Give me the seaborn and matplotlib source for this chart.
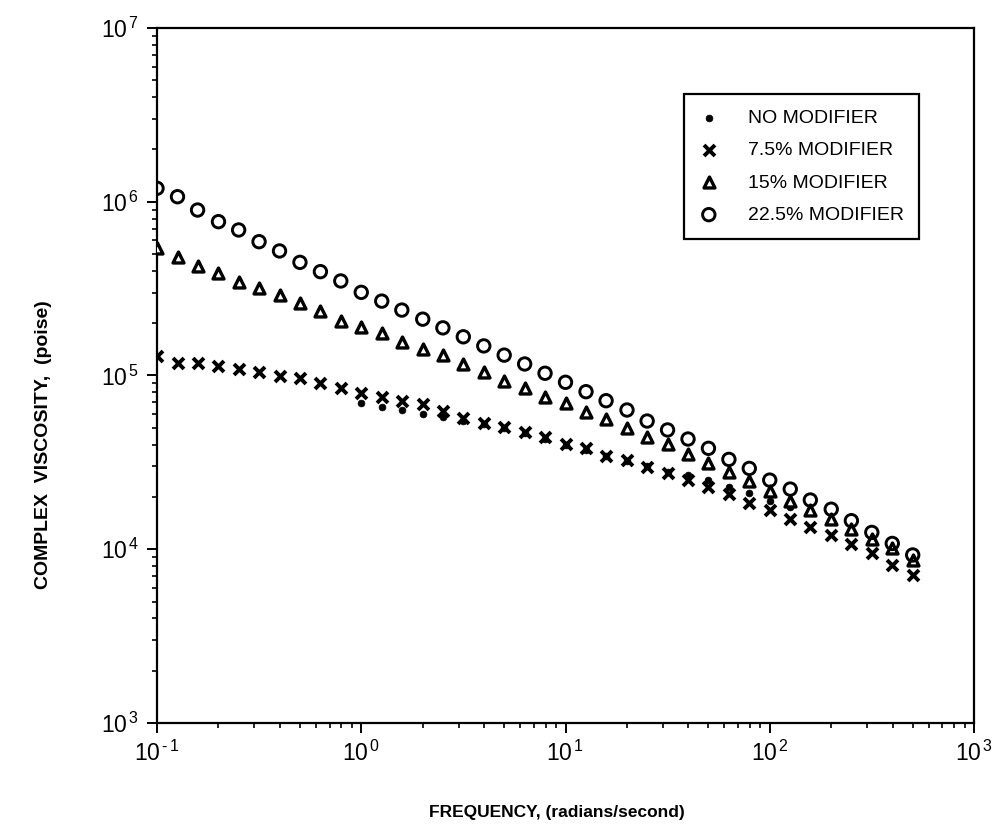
import matplotlib
matplotlib.use("Agg")
import matplotlib.pyplot as plt
import seaborn as sns
import numpy as np
import pandas as pd
from matplotlib.ticker import LogLocator

# ---------------- data ----------------
freq = [0.1, 0.126, 0.158, 0.2, 0.251, 0.316, 0.398, 0.501, 0.631, 0.794,
        1.0, 1.26, 1.58, 2.0, 2.51, 3.16, 3.98, 5.01, 6.31, 7.94,
        10.0, 12.6, 15.8, 20.0, 25.1, 31.6, 39.8, 50.1, 63.1, 79.4,
        100.0, 126.0, 158.0, 200.0, 251.0, 316.0, 398.0, 501.0]

freq_none = [1.0, 1.26, 1.58, 2.0, 2.51, 3.16, 3.98, 5.01, 6.31, 7.94,
             10.0, 12.6, 15.8, 20.0, 25.1, 31.6, 39.8, 50.1, 63.1, 79.4,
             100.0, 126.0, 158.0]

visc_none = [6.92e4, 6.56e4, 6.33e4, 6.00e4, 5.79e4, 5.49e4, 5.26e4, 4.97e4,
             4.65e4, 4.30e4, 4.00e4, 3.75e4, 3.45e4, 3.22e4, 3.00e4, 2.80e4,
             2.66e4, 2.50e4, 2.29e4, 2.10e4, 1.90e4, 1.76e4, 1.65e4]

visc_75 = [1.295e5, 1.176e5, 1.185e5, 1.139e5, 1.086e5, 1.043e5, 9.93e4, 9.63e4,
           9.02e4, 8.51e4, 7.96e4, 7.55e4, 7.16e4, 6.81e4, 6.25e4, 5.67e4,
           5.35e4, 5.07e4, 4.71e4, 4.41e4, 4.02e4, 3.81e4, 3.45e4, 3.26e4,
           2.99e4, 2.76e4, 2.50e4, 2.27e4, 2.07e4, 1.84e4, 1.68e4, 1.49e4,
           1.35e4, 1.20e4, 1.07e4, 9.48e3, 8.12e3, 7.11e3]

visc_15 = [5.40e5, 4.83e5, 4.28e5, 3.91e5, 3.44e5, 3.18e5, 2.91e5, 2.60e5,
           2.36e5, 2.07e5, 1.91e5, 1.75e5, 1.565e5, 1.43e5, 1.31e5, 1.16e5,
           1.05e5, 9.33e4, 8.51e4, 7.55e4, 6.97e4, 6.14e4, 5.62e4, 4.97e4,
           4.44e4, 4.02e4, 3.55e4, 3.15e4, 2.79e4, 2.47e4, 2.16e4, 1.90e4,
           1.68e4, 1.49e4, 1.31e4, 1.14e4, 1.01e4, 8.67e3]

visc_225 = [1.195e6, 1.069e6, 8.96e5, 7.68e5, 6.88e5, 5.89e5, 5.21e5, 4.48e5,
            3.96e5, 3.50e5, 3.01e5, 2.68e5, 2.38e5, 2.11e5, 1.88e5, 1.67e5,
            1.48e5, 1.31e5, 1.165e5, 1.03e5, 9.14e4, 8.07e4, 7.16e4, 6.33e4,
            5.47e4, 4.86e4, 4.31e4, 3.81e4, 3.29e4, 2.92e4, 2.50e4, 2.22e4,
            1.92e4, 1.70e4, 1.46e4, 1.25e4, 1.08e4, 9.27e3]

labels = ["NO MODIFIER", "7.5% MODIFIER", "15% MODIFIER", "22.5% MODIFIER"]
x_label = "FREQUENCY, (radians/second)"
y_label = "COMPLEX  VISCOSITY,  (poise)"

x_ticks = [0.1, 1, 10, 100, 1000]
x_ticklabels = [r"10$^{\,\text{-}\,1}$", r"10$^{\,0}$", r"10$^{\,1}$", r"10$^{\,2}$", r"10$^{\,3}$"]
y_ticks = [1e3, 1e4, 1e5, 1e6, 1e7]
y_ticklabels = [r"10$^{\,3}$", r"10$^{\,4}$", r"10$^{\,5}$", r"10$^{\,6}$", r"10$^{\,7}$"]

# ---------------- style ----------------
sns.set_style("ticks")
plt.rcParams["font.family"] = ["Liberation Sans", "DejaVu Sans"]
plt.rcParams["mathtext.fontset"] = "custom"
plt.rcParams["mathtext.rm"] = "Liberation Sans"
plt.rcParams["mathtext.it"] = "Liberation Sans"
plt.rcParams["mathtext.default"] = "regular"
plt.rcParams["text.color"] = "black"
plt.rcParams["axes.labelcolor"] = "black"

fig = plt.figure(figsize=(10.01, 8.30), dpi=100)
ax = fig.add_axes([157 / 1001, (830 - 723) / 830, (974 - 157) / 1001, (723 - 28) / 830])

sns.scatterplot(x=freq_none, y=visc_none, ax=ax, marker="o", s=24,
                color="black", edgecolor="black", linewidth=0.5, label=labels[0], zorder=3)
sns.scatterplot(x=freq, y=visc_75, ax=ax, marker="x", s=62,
                color="black", linewidth=2.8, label=labels[1], zorder=4)
sns.scatterplot(x=freq, y=visc_15, ax=ax, marker="^", s=62,
                facecolor="white", edgecolor="black", linewidth=2.4, label=labels[2], zorder=4)
sns.scatterplot(x=freq, y=visc_225, ax=ax, marker="o", s=80,
                facecolor="none", edgecolor="black", linewidth=2.1, label=labels[3], zorder=5)

ax.set_xscale("log")
ax.set_yscale("log")
ax.set_xlim(0.1, 1000)
ax.set_ylim(1e3, 1e7)

ax.set_xticks(x_ticks, x_ticklabels)
ax.set_yticks(y_ticks, y_ticklabels)
ax.xaxis.set_minor_locator(LogLocator(base=10, subs=np.arange(2, 10), numticks=50))
ax.yaxis.set_minor_locator(LogLocator(base=10, subs=np.arange(2, 10), numticks=50))
ax.xaxis.set_minor_formatter(matplotlib.ticker.NullFormatter())
ax.yaxis.set_minor_formatter(matplotlib.ticker.NullFormatter())

for s in ax.spines.values():
    s.set_linewidth(1.6)
    s.set_color("black")
ax.tick_params(which="major", direction="out", length=7, width=1.4, labelsize=16.5,
               colors="black", pad=6)
ax.tick_params(which="minor", direction="out", length=3.5, width=1.2, colors="black")
ax.tick_params(top=False, right=False, which="both")

ax.set_xlabel(x_label, fontsize=12.5, fontweight="bold")
ax.set_ylabel(y_label, fontsize=14, fontweight="bold")
ax.xaxis.set_label_coords(0.49, -0.118)
ax.yaxis.set_label_coords(-0.128, 0.40)

leg = ax.legend(loc="upper right", bbox_to_anchor=(0.933, 0.905), frameon=True,
                fancybox=False, shadow=False, fontsize=14, edgecolor="black",
                framealpha=1, borderpad=0.8, labelspacing=0.75,
                handlelength=1.0, handletextpad=1.5, borderaxespad=0)
leg.get_frame().set_linewidth(1.6)
for t in leg.get_texts():
    t.set_color("black")

fig.savefig("out.png", dpi=100)
